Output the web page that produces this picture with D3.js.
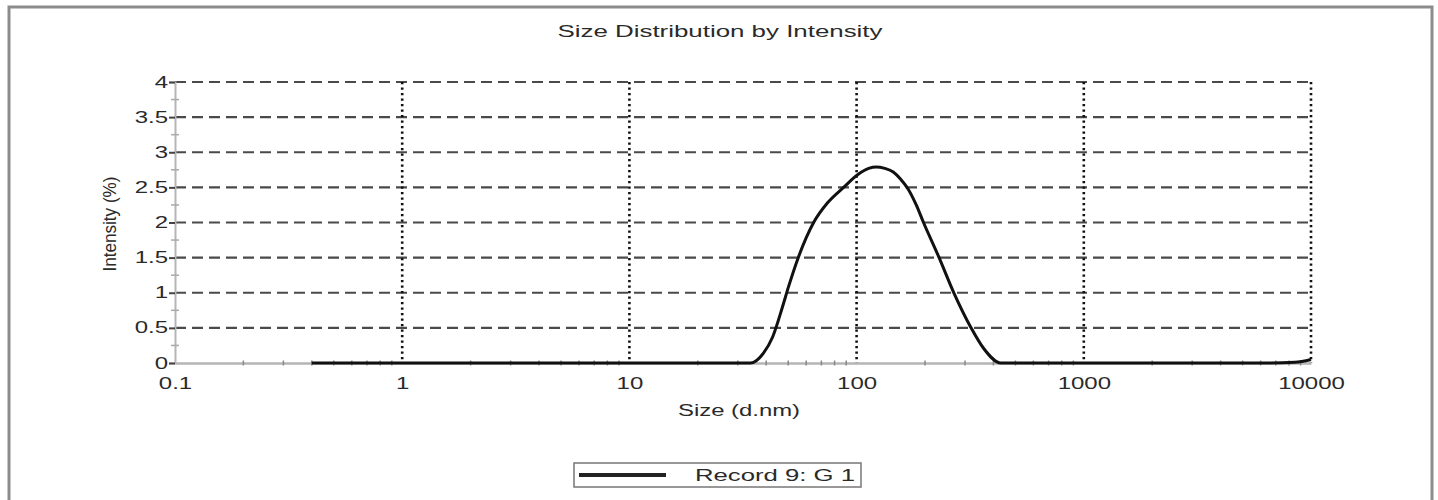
<!DOCTYPE html>
<html>
<head>
<meta charset="utf-8">
<script src="https://cdn.jsdelivr.net/npm/d3@7"></script>
<style>
  body { margin: 0; background: #fff; }
  text { font-family: "Liberation Sans", Arial, sans-serif; fill: #2a2a2a; }
</style>
</head>
<body>
<div id="chart"></div>
<script>
const sizes = [0.4, 34.1, 38.9, 42.7, 47.2, 50.1, 55.5, 64.7, 74.5, 87.7, 101, 113, 122, 133, 145, 156, 169, 183, 197, 230, 267, 318, 362, 431, 6000, 8500, 10000];
const intensity = [0, 0, 0.14, 0.37, 0.80, 1.08, 1.51, 2.0, 2.28, 2.5, 2.68, 2.77, 2.79, 2.77, 2.72, 2.62, 2.47, 2.25, 2.0, 1.51, 1.01, 0.51, 0.21, 0, 0, 0.01, 0.05];
const xTicks = [0.1, 1, 10, 100, 1000, 10000];
const xTickLabels = ['0.1', '1', '10', '100', '1000', '10000'];
const yTicks = [0, 0.5, 1, 1.5, 2, 2.5, 3, 3.5, 4];
const yTickLabels = ['0', '0.5', '1', '1.5', '2', '2.5', '3', '3.5', '4'];
const chartTitle = 'Size Distribution by Intensity';
const xTitle = 'Size (d.nm)';
const yTitle = 'Intensity (%)';
const legendLabel = 'Record 9: G 1';

const width = 1438, height = 500;
const plotLeft = 175, plotRight = 1311, plotTop = 82, plotBottom = 363;
const stretch = 1.5;

const svg = d3.select('#chart').append('svg').attr('width', width).attr('height', height);

// outer frame
svg.append('rect')
  .attr('x', 9).attr('y', 7).attr('width', 1423).attr('height', 496)
  .attr('fill', 'none').attr('stroke', '#8c8c8c').attr('stroke-width', 3);

const x = d3.scaleLog().domain([0.1, 10000]).range([plotLeft, plotRight]);
const y = d3.scaleLinear().domain([0, 4]).range([plotBottom, plotTop]);

// title
svg.append('text')
  .attr('x', 720).attr('y', 37)
  .attr('text-anchor', 'middle')
  .attr('font-size', 16)
  .attr('textLength', 325).attr('lengthAdjust', 'spacingAndGlyphs')
  .text(chartTitle);

// horizontal dashed grid
svg.append('g').selectAll('line')
  .data(yTicks.filter(d => d > 0))
  .enter().append('line')
  .attr('x1', plotLeft).attr('x2', plotRight)
  .attr('y1', d => y(d)).attr('y2', d => y(d))
  .attr('stroke', '#4a4a4a').attr('stroke-width', 2.2)
  .attr('stroke-dasharray', '11,6');

// vertical dotted grid
svg.append('g').selectAll('line')
  .data(xTicks.filter(d => d > 0.1))
  .enter().append('line')
  .attr('x1', d => x(d)).attr('x2', d => x(d))
  .attr('y1', plotTop).attr('y2', plotBottom)
  .attr('stroke', '#111').attr('stroke-width', 2.6)
  .attr('stroke-dasharray', '2.2,3.3');

// y axis
const yAxis = svg.append('g')
  .attr('transform', `translate(${plotLeft},0)`)
  .call(d3.axisLeft(y).tickValues(yTicks).tickSize(6).tickFormat((d, i) => yTickLabels[i]));
yAxis.select('.domain').attr('stroke', '#b5b5b5').attr('stroke-width', 2);
yAxis.selectAll('.tick line').attr('stroke', '#444').attr('stroke-width', 2);
yAxis.selectAll('.tick text')
  .attr('font-size', 16).attr('x', -7 / stretch).attr('fill', '#2a2a2a')
  .attr('transform', `scale(${stretch},1)`);

// y minor ticks
svg.append('g').selectAll('line')
  .data(d3.range(0.25, 4, 0.5))
  .enter().append('line')
  .attr('x1', plotLeft - 4).attr('x2', plotLeft + 4)
  .attr('y1', d => y(d)).attr('y2', d => y(d))
  .attr('stroke', '#aaa').attr('stroke-width', 1.5);

// x axis
const xAxis = svg.append('g')
  .attr('transform', `translate(0,${plotBottom})`)
  .call(d3.axisBottom(x).tickValues(xTicks).tickSize(0).tickPadding(15).tickFormat((d, i) => xTickLabels[i]));
xAxis.select('.domain').attr('stroke', '#b5b5b5').attr('stroke-width', 2.5);
xAxis.selectAll('.tick text')
  .attr('font-size', 16).attr('fill', '#2a2a2a')
  .attr('transform', `scale(${stretch},1)`);

// x minor ticks (2..9 per decade)
const minor = [];
[0.1, 1, 10, 100, 1000].forEach(dec => { for (let k = 2; k <= 9; k++) minor.push(dec * k); });
svg.append('g').selectAll('line')
  .data(minor)
  .enter().append('line')
  .attr('x1', d => x(d)).attr('x2', d => x(d))
  .attr('y1', plotBottom - 2.5).attr('y2', plotBottom + 2.5)
  .attr('stroke', '#888').attr('stroke-width', 1.5);

// axis titles
svg.append('text')
  .attr('x', 739).attr('y', 416)
  .attr('text-anchor', 'middle').attr('font-size', 16)
  .attr('textLength', 122).attr('lengthAdjust', 'spacingAndGlyphs')
  .text(xTitle);

svg.append('text')
  .attr('transform', `translate(116,224) scale(1.35,1) rotate(-90)`)
  .attr('text-anchor', 'middle').attr('font-size', 14)
  .attr('textLength', 95).attr('lengthAdjust', 'spacingAndGlyphs')
  .text(yTitle);

// data curve
const points = sizes.map((s, i) => [s, intensity[i]]);
const line = d3.line()
  .x(d => x(d[0]))
  .y(d => y(d[1]))
  .curve(d3.curveMonotoneX);
svg.append('path')
  .datum(points)
  .attr('d', line)
  .attr('fill', 'none')
  .attr('stroke', '#111')
  .attr('stroke-width', 3)
  .attr('stroke-linejoin', 'round');

// legend
const legend = svg.append('g');
legend.append('rect')
  .attr('x', 574).attr('y', 463).attr('width', 287).attr('height', 24)
  .attr('fill', '#fff').attr('stroke', '#777').attr('stroke-width', 1.5);
legend.append('line')
  .attr('x1', 579).attr('x2', 666).attr('y1', 475).attr('y2', 475)
  .attr('stroke', '#222').attr('stroke-width', 4);
legend.append('text')
  .attr('x', 855).attr('y', 481)
  .attr('text-anchor', 'end').attr('font-size', 16)
  .attr('textLength', 160).attr('lengthAdjust', 'spacingAndGlyphs')
  .text(legendLabel);
</script>
</body>
</html>
